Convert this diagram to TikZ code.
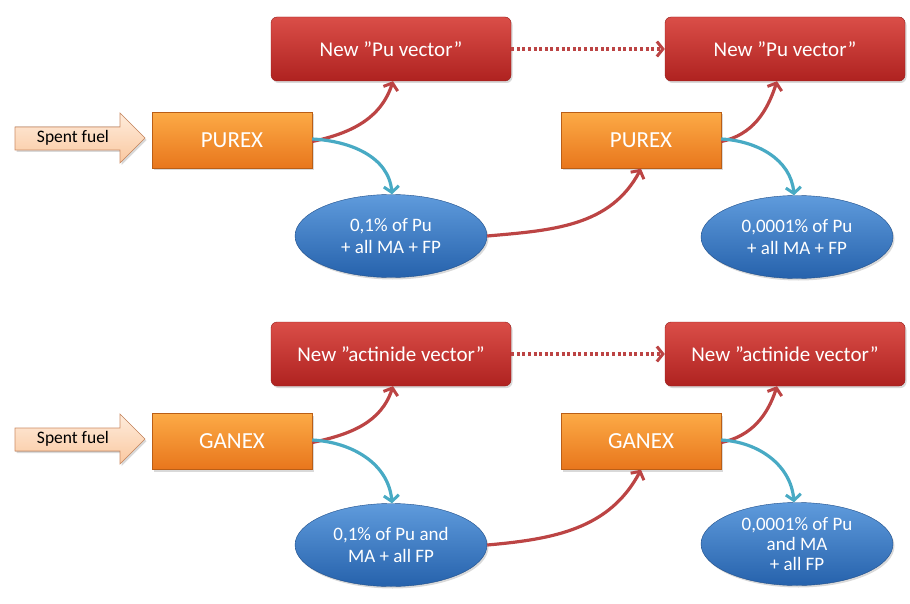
\documentclass[tikz,border=0pt]{standalone}
\usepackage{fontspec}
\setmainfont{Carlito}
\usetikzlibrary{arrows.meta,shadows,shapes.geometric}
\definecolor{rtop}{RGB}{218,78,72}
\definecolor{rbot}{RGB}{175,34,32}
\definecolor{otop}{RGB}{252,170,70}
\definecolor{obot}{RGB}{232,118,28}
\definecolor{btop}{RGB}{95,155,220}
\definecolor{bbot}{RGB}{38,98,172}
\definecolor{ftop}{RGB}{254,236,220}
\definecolor{fbot}{RGB}{250,200,160}
\definecolor{fedge}{RGB}{205,140,100}
\definecolor{rline}{RGB}{188,68,68}
\definecolor{bline}{RGB}{72,170,196}
\tikzset{
  shad/.style={drop shadow={opacity=0.3,shadow xshift=1.5pt,shadow yshift=-2pt}},
  redbox/.style={rectangle, rounded corners=6pt, minimum width=240pt, minimum height=64pt,
    top color=rtop, bottom color=rbot, draw=rbot!85!black, line width=0.4pt,
    text=white, font=\fontsize{21}{25}\selectfont, shad},
  orbox/.style={rectangle, minimum width=160pt, minimum height=56pt,
    top color=otop, bottom color=obot, draw=obot!80!black, line width=0.4pt,
    text=white, font=\fontsize{23}{27}\selectfont, shad},
  blueell/.style={ellipse, minimum width=192pt, minimum height=83pt, inner sep=0pt,
    top color=btop, bottom color=bbot, draw=bbot!80!black, line width=0.4pt,
    text=white, align=center, font=\fontsize{19}{22}\selectfont, shad},
  fuelarrow/.style={top color=ftop, bottom color=fbot, draw=fedge, line width=0.6pt, shad},
  fueltext/.style={font=\fontsize{17.5}{20}\selectfont, text=black},
  redarr/.style={draw=rline, line width=3.2pt, -{Straight Barb[length=6pt,width=15pt,line width=3pt]}},
  bluearr/.style={draw=bline, line width=3.2pt, -{Straight Barb[length=6pt,width=15pt,line width=3pt]}},
  dotarr/.style={draw=rline, line width=3.5pt, dash pattern=on 3pt off 2.6pt, -{Straight Barb[length=6pt,width=15pt,line width=3pt]}},
}
\begin{document}
\begin{tikzpicture}[x=1pt,y=-1pt]
\useasboundingbox (0,0) rectangle (910,604);
% ---------- top row ----------
\fill[fuelarrow] (15,127) -- (120,127) -- (120,113) -- (145,138) -- (120,163) -- (120,150) -- (15,150) -- cycle;
\node[fueltext] (sf1) at (73,138) {Spent fuel};
\node[redbox] (r1) at (391,49) {New ”Pu vector”};
\node[redbox] (r2) at (785,49) {New ”Pu vector”};
\node[orbox] (p1) at (232,140.5) {PUREX};
\node[orbox] (p2) at (641,140.5) {PUREX};
\node[blueell] (e1) at (391,236) {0,1\% of Pu\\+ all MA + FP};
\node[blueell] (e2) at (797,237) {0,0001\% of Pu\\+ all MA + FP};
\draw[dotarr] (r1.east) -- (r2.west);
\draw[redarr] ([yshift=-1pt]p1.east) to[out=12,in=-108] ([xshift=2pt]r1.south);
\draw[bluearr] ([yshift=1.5pt]p1.east) to[out=-3,in=95] ([xshift=1pt]e1.north);
\draw[redarr] (e1.east) to[out=5,in=-118] (p2.south);
\draw[redarr] ([yshift=-1pt]p2.east) to[out=12,in=-108] ([xshift=-8pt]r2.south);
\draw[bluearr] ([yshift=1.5pt]p2.east) to[out=-3,in=95] ([xshift=-3pt]e2.north);
% ---------- bottom row ----------
\fill[fuelarrow] (15,428) -- (120,428) -- (120,414) -- (145,439) -- (120,464) -- (120,451) -- (15,451) -- cycle;
\node[fueltext] (sf2) at (73,439) {Spent fuel};
\node[redbox] (r3) at (391,354) {New ”actinide vector”};
\node[redbox] (r4) at (785,354) {New ”actinide vector”};
\node[orbox] (g1) at (232,441.5) {GANEX};
\node[orbox] (g2) at (641,441.5) {GANEX};
\node[blueell] (e3) at (391,545) {0,1\% of Pu and\\MA + all  FP};
\node[blueell, font=\fontsize{19}{20}\selectfont] (e4) at (797,544) {0,0001\% of Pu\\and MA\\+ all FP};
\draw[dotarr] (r3.east) -- (r4.west);
\draw[redarr] ([yshift=-1pt]g1.east) to[out=12,in=-108] ([xshift=2pt]r3.south);
\draw[bluearr] ([yshift=1.5pt]g1.east) to[out=-3,in=95] ([xshift=1pt]e3.north);
\draw[redarr] (e3.east) to[out=5,in=-118] (g2.south);
\draw[redarr] ([yshift=-1pt]g2.east) to[out=12,in=-108] ([xshift=-8pt]r4.south);
\draw[bluearr] ([yshift=1.5pt]g2.east) to[out=-3,in=95] ([xshift=-3pt]e4.north);
\end{tikzpicture}
\end{document}
